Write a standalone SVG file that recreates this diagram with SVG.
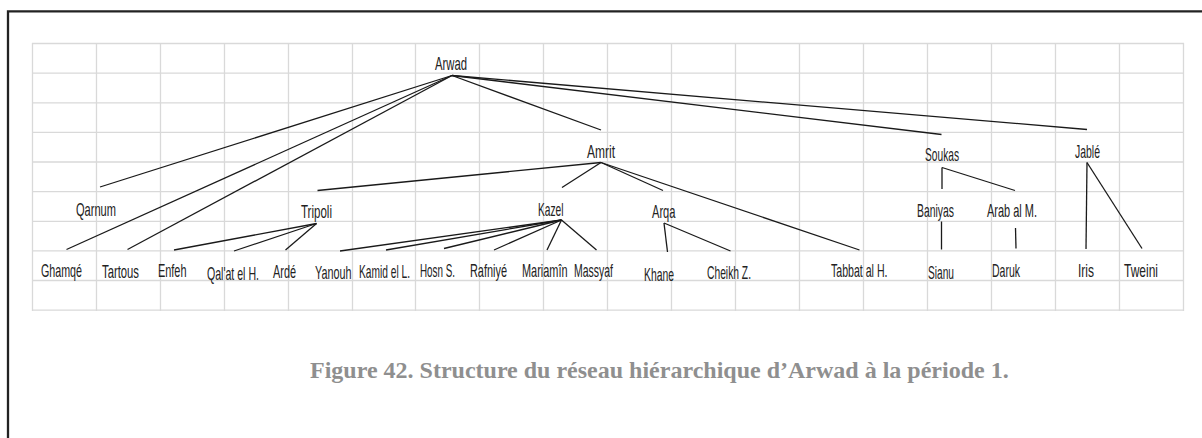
<svg xmlns="http://www.w3.org/2000/svg" width="1202" height="438" viewBox="0 0 1202 438">
<style>
.grid{stroke:#d9d9d9;stroke-width:1.3;fill:none}
.frame{stroke:#222;stroke-width:2.3;fill:none}
.lbl{font-family:"Liberation Sans",Arial,sans-serif;font-size:11px;fill:#222}
.conn line{stroke:#1a1a1a;stroke-width:1.3}
.cap{font-family:"Liberation Serif","Times New Roman",serif;font-weight:bold;font-size:24px;fill:#8f8f8f}
</style>
<rect width="1202" height="438" fill="#fff"/>
<path class="frame" d="M8 438V11.3H1202"/>
<g id="grid" class="grid">
<path d="M32 43.5H1184M32 73.1H1184M32 102.8H1184M32 132.4H1184M32 162H1184M32 191.7H1184M32 221.3H1184M32 250.9H1184M32 280.5H1184M32 310.2H1184"/>
<path d="M32.5 43V311M96.5 43V311M160.5 43V311M224.5 43V311M288.5 43V311M352.5 43V311M415.5 43V311M479.5 43V311M543.5 43V311M607.5 43V311M671.5 43V311M735.5 43V311M799.5 43V311M863.5 43V311M927.5 43V311M991.5 43V311M1055.5 43V311M1119.5 43V311M1183.5 43V311"/>
</g>
<g id="connectors" class="conn">
<line x1="452" y1="75.5" x2="100" y2="187"/>
<line x1="452" y1="75.5" x2="66.5" y2="249.5"/>
<line x1="452" y1="75.5" x2="127.5" y2="249.5"/>
<line x1="452" y1="75.5" x2="601" y2="130"/>
<line x1="452" y1="75.5" x2="941.5" y2="134.5"/>
<line x1="452" y1="75.5" x2="1087" y2="129.5"/>
<line x1="601" y1="162.5" x2="317.5" y2="190.5"/>
<line x1="601" y1="162.5" x2="562" y2="187.5"/>
<line x1="601" y1="162.5" x2="663" y2="190.5"/>
<line x1="601" y1="162.5" x2="859.5" y2="250"/>
<line x1="316.5" y1="223.5" x2="174" y2="250"/>
<line x1="316.5" y1="223.5" x2="234" y2="251"/>
<line x1="316.5" y1="223.5" x2="285.5" y2="250"/>
<line x1="561.5" y1="220" x2="340" y2="251"/>
<line x1="561.5" y1="220" x2="386" y2="250"/>
<line x1="561.5" y1="220" x2="444" y2="248.5"/>
<line x1="561.5" y1="220" x2="494" y2="250"/>
<line x1="561.5" y1="220" x2="547" y2="250"/>
<line x1="561.5" y1="220" x2="596.5" y2="250"/>
<line x1="664" y1="223" x2="667.5" y2="252"/>
<line x1="664" y1="223" x2="730.5" y2="251"/>
<line x1="942" y1="167.5" x2="942" y2="189"/>
<line x1="942" y1="167.5" x2="1015" y2="190.5"/>
<line x1="941.5" y1="221.5" x2="941.5" y2="249.5"/>
<line x1="1015.5" y1="228" x2="1016" y2="248.5"/>
<line x1="1087" y1="162.5" x2="1086" y2="249"/>
<line x1="1087" y1="162.5" x2="1142" y2="248.5"/>
</g>
<g id="nodes" transform="scale(1,1.6)">
<g id="n-arwad"><text class="lbl" x="435" y="43.75" textLength="32" lengthAdjust="spacingAndGlyphs">Arwad</text></g>
<g id="n-amrit"><text class="lbl" x="587" y="98.75" textLength="28" lengthAdjust="spacingAndGlyphs">Amrit</text></g>
<g id="n-soukas"><text class="lbl" x="925" y="100.63" textLength="34" lengthAdjust="spacingAndGlyphs">Soukas</text></g>
<g id="n-jable"><text class="lbl" x="1075" y="98.75" textLength="25" lengthAdjust="spacingAndGlyphs">Jablé</text></g>
<g id="n-qarnum"><text class="lbl" x="76" y="135" textLength="40" lengthAdjust="spacingAndGlyphs">Qarnum</text></g>
<g id="n-tripoli"><text class="lbl" x="301" y="136.25" textLength="31" lengthAdjust="spacingAndGlyphs">Tripoli</text></g>
<g id="n-kazel"><text class="lbl" x="538" y="135" textLength="25.5" lengthAdjust="spacingAndGlyphs">Kazel</text></g>
<g id="n-arqa"><text class="lbl" x="652" y="136.25" textLength="23.5" lengthAdjust="spacingAndGlyphs">Arqa</text></g>
<g id="n-baniyas"><text class="lbl" x="917" y="135.63" textLength="37" lengthAdjust="spacingAndGlyphs">Baniyas</text></g>
<g id="n-arab"><text class="lbl" x="987" y="135.63" textLength="50" lengthAdjust="spacingAndGlyphs">Arab al M.</text></g>
<g id="n-ghamqe"><text class="lbl" x="41" y="173.31" textLength="41" lengthAdjust="spacingAndGlyphs">Ghamqé</text></g>
<g id="n-tartous"><text class="lbl" x="102" y="173.75" textLength="37" lengthAdjust="spacingAndGlyphs">Tartous</text></g>
<g id="n-enfeh"><text class="lbl" x="158" y="173.31" textLength="28.5" lengthAdjust="spacingAndGlyphs">Enfeh</text></g>
<g id="n-qalat"><text class="lbl" x="207" y="175" textLength="52" lengthAdjust="spacingAndGlyphs">Qal'at el H.</text></g>
<g id="n-arde"><text class="lbl" x="273" y="173.75" textLength="23" lengthAdjust="spacingAndGlyphs">Ardé</text></g>
<g id="n-yanouh"><text class="lbl" x="315" y="174.56" textLength="36.5" lengthAdjust="spacingAndGlyphs">Yanouh</text></g>
<g id="n-kamid"><text class="lbl" x="359" y="173.75" textLength="51" lengthAdjust="spacingAndGlyphs">Kamid el L.</text></g>
<g id="n-hosn"><text class="lbl" x="420" y="172.94" textLength="35" lengthAdjust="spacingAndGlyphs">Hosn S.</text></g>
<g id="n-rafniye"><text class="lbl" x="470" y="173.31" textLength="37" lengthAdjust="spacingAndGlyphs">Rafniyé</text></g>
<g id="n-mariamin"><text class="lbl" x="522" y="173.31" textLength="45.5" lengthAdjust="spacingAndGlyphs">Mariamîn</text></g>
<g id="n-massyaf"><text class="lbl" x="574" y="172.94" textLength="39" lengthAdjust="spacingAndGlyphs">Massyaf</text></g>
<g id="n-khane"><text class="lbl" x="644" y="175.44" textLength="30" lengthAdjust="spacingAndGlyphs">Khane</text></g>
<g id="n-cheikh"><text class="lbl" x="707" y="174.56" textLength="44" lengthAdjust="spacingAndGlyphs">Cheikh Z.</text></g>
<g id="n-tabbat"><text class="lbl" x="831" y="173.31" textLength="56.5" lengthAdjust="spacingAndGlyphs">Tabbat al H.</text></g>
<g id="n-sianu"><text class="lbl" x="928" y="174.19" textLength="26" lengthAdjust="spacingAndGlyphs">Sianu</text></g>
<g id="n-daruk"><text class="lbl" x="992" y="172.94" textLength="28" lengthAdjust="spacingAndGlyphs">Daruk</text></g>
<g id="n-iris"><text class="lbl" x="1078" y="173.31" textLength="16" lengthAdjust="spacingAndGlyphs">Iris</text></g>
<g id="n-tweini"><text class="lbl" x="1124" y="173.31" textLength="34" lengthAdjust="spacingAndGlyphs">Tweini</text></g>
</g>
<text class="cap" x="310" y="378">Figure 42. Structure du réseau hiérarchique d’Arwad à la période 1.</text>
</svg>
